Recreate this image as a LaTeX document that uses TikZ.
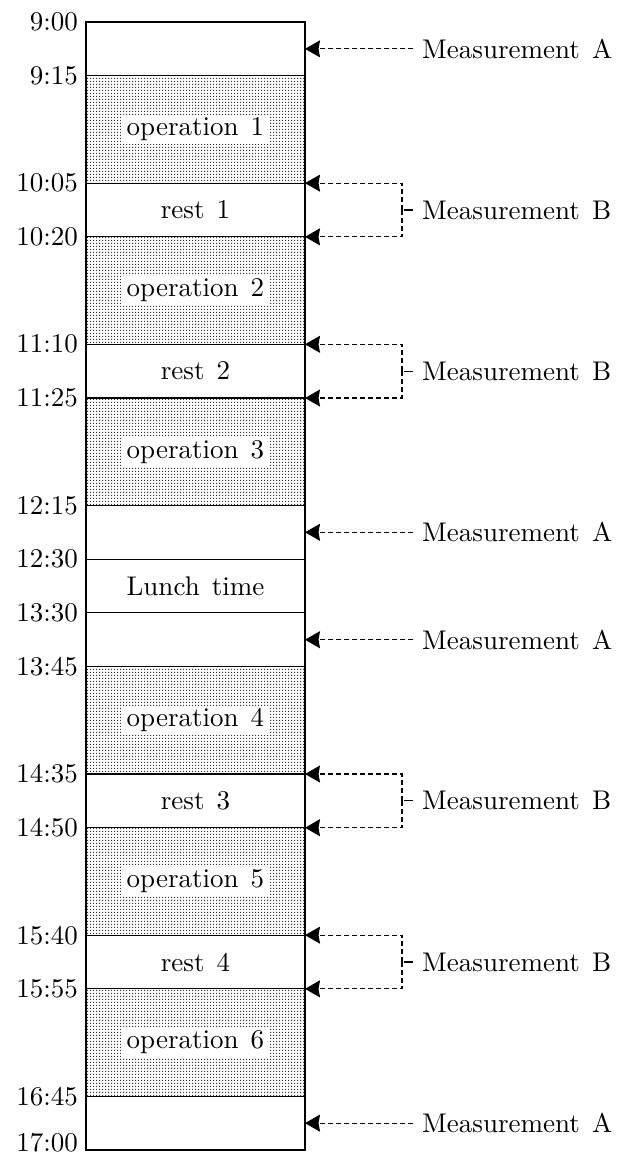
\documentclass[tikz,border=0pt]{standalone}
\usepackage{fontspec}
\setmainfont{lmroman10-regular.otf}
\usetikzlibrary{positioning,arrows.meta,patterns.meta}
\tikzdeclarepattern{
  name=fdots,
  type=uncolored,
  bottom left={(0pt,0pt)},
  top right={(3pt,3pt)},
  tile size={(3pt,3pt)},
  code={\fill (0pt,0pt) rectangle (1.5pt,1.5pt);}
}
\newcommand{\bigfont}{\fontsize{27}{32}\selectfont}
\newcommand{\wsp}{\hspace{0.45em}}
\begin{document}
\begin{tikzpicture}[x=1pt,y=-1pt,
  blk/.style={draw, line width=1.2pt, minimum width=219pt, inner sep=0pt, outer sep=0pt},
  shortb/.style={blk, minimum height=53.714pt},
  longb/.style={blk, minimum height=107.43pt, pattern=fdots, pattern color=black!80},
  inlab/.style={fill=white, inner xsep=6pt, inner ysep=3pt, font=\bigfont},
  plainlab/.style={inner sep=0pt, font=\bigfont},
  tlab/.style={anchor=east, inner sep=0pt, xshift=-8pt, font=\bigfont},
  mlab/.style={anchor=west, inner xsep=9pt, inner ysep=0pt, font=\bigfont},
  dl/.style={dash pattern=on 5pt off 3pt, line width=1.1pt},
  arr/.style={-{Stealth[length=15pt,width=17pt,inset=1.5pt]}},
]
\useasboundingbox (0,0) rectangle (629,1156);

% blocks
\node[shortb, anchor=north west] (a1) at (86,22) {};
\node[longb, below=0pt of a1] (o1) {};
\node[shortb, below=0pt of o1] (r1) {};
\node[longb, below=0pt of r1] (o2) {};
\node[shortb, below=0pt of o2] (r2) {};
\node[longb, below=0pt of r2] (o3) {};
\node[shortb, below=0pt of o3] (a2) {};
\node[shortb, below=0pt of a2] (lu) {};
\node[shortb, below=0pt of lu] (a3) {};
\node[longb, below=0pt of a3] (o4) {};
\node[shortb, below=0pt of o4] (r3) {};
\node[longb, below=0pt of r3] (o5) {};
\node[shortb, below=0pt of o5] (r4) {};
\node[longb, below=0pt of r4] (o6) {};
\node[shortb, below=0pt of o6] (a4) {};
\draw[line width=2pt] (a1.north west) rectangle (a4.south east);

% block texts
\node[inlab] (o1t) at (o1) {operation\wsp1};
\node[inlab] (o2t) at (o2) {operation\wsp2};
\node[inlab] (o3t) at (o3) {operation\wsp3};
\node[inlab] (o4t) at (o4) {operation\wsp4};
\node[inlab] (o5t) at (o5) {operation\wsp5};
\node[inlab] (o6t) at (o6) {operation\wsp6};
\node[plainlab] (r1t) at (r1) {rest\wsp1};
\node[plainlab] (r2t) at (r2) {rest\wsp2};
\node[plainlab] (r3t) at (r3) {rest\wsp3};
\node[plainlab] (r4t) at (r4) {rest\wsp4};
\node[plainlab] (lut) at (lu) {Lunch\wsp time};

% time labels
\node[tlab] (t01) at (a1.north west) {9:00};
\node[tlab] (t02) at (o1.north west) {9:15};
\node[tlab] (t03) at (r1.north west) {10:05};
\node[tlab] (t04) at (o2.north west) {10:20};
\node[tlab] (t05) at (r2.north west) {11:10};
\node[tlab] (t06) at (o3.north west) {11:25};
\node[tlab] (t07) at (a2.north west) {12:15};
\node[tlab] (t08) at (lu.north west) {12:30};
\node[tlab] (t09) at (a3.north west) {13:30};
\node[tlab] (t10) at (o4.north west) {13:45};
\node[tlab] (t11) at (r3.north west) {14:35};
\node[tlab] (t12) at (o5.north west) {14:50};
\node[tlab] (t13) at (r4.north west) {15:40};
\node[tlab] (t14) at (o6.north west) {15:55};
\node[tlab] (t15) at (a4.north west) {16:45};
\node[tlab, yshift=7pt] (t16) at (a4.south west) {17:00};

% Measurement A
\foreach \b/\m in {a1/mA1, a2/mA2, a3/mA3, a4/mA4}{
  \node[mlab] (\m) at ([xshift=108pt]\b.east) {Measurement\wsp A};
  \draw[dl,arr] (\m.west) -- (\b.east);
}

% Measurement B
\foreach \b/\k/\m in {r1/k1/mB1, r2/k2/mB2, r3/k3/mB3, r4/k4/mB4}{
  \coordinate (\k) at ([xshift=97pt]\b.east);
  \node[mlab] (\m) at ([xshift=11pt]\k) {Measurement\wsp B};
  \draw[line width=1.1pt] ([xshift=2pt]\k) -- (\m.west);
  \draw[dl,arr] (\k) |- (\b.north east);
  \draw[dl,arr] (\k) |- (\b.south east);
}
\end{tikzpicture}
\end{document}
